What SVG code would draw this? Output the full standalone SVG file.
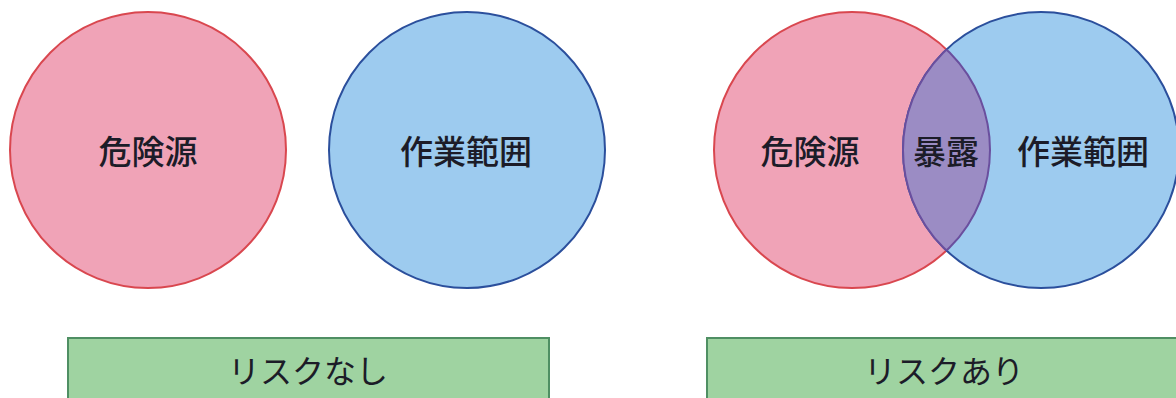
<svg xmlns="http://www.w3.org/2000/svg" width="1176" height="398" viewBox="0 0 1176 398">
<style>
.hz{fill:#f0a3b7;stroke:#d9474f;stroke-width:2}
.wk{fill:#9dcbef;stroke:#2b4f9c;stroke-width:2}
.ov{fill:#9b8cc4;stroke:#6a4f9e;stroke-width:2}
.box{fill:#9fd3a1;stroke:#4f8f63;stroke-width:2}
.t{font-family:"Noto Sans CJK JP","Noto Sans",sans-serif;font-weight:500;fill:#1c1c28;text-anchor:middle;dominant-baseline:central}
.big{font-size:33px}
.lab{font-size:32px;font-weight:400}
</style>
<defs>
<clipPath id="clipHz"><circle cx="852" cy="150" r="138"/></clipPath>
</defs>
<rect width="1176" height="398" fill="#ffffff"/>
<g id="left-hazard"><circle class="hz" cx="148" cy="150" r="138"/><text class="t big" x="148" y="150">危険源</text></g>
<g id="left-work"><circle class="wk" cx="467" cy="150" r="138"/><text class="t big" x="466" y="150">作業範囲</text></g>
<g id="left-result"><rect class="box" x="68" y="338" width="481" height="70"/><text class="t lab" x="308" y="369">リスクなし</text></g>
<g id="right-hazard"><circle class="hz" cx="852" cy="150" r="138"/></g>
<g id="right-work"><circle class="wk" cx="1041" cy="150" r="138"/></g>
<g id="right-exposure"><circle class="ov" cx="1041" cy="150" r="138" clip-path="url(#clipHz)"/><circle cx="852" cy="150" r="138" fill="none" stroke="#6a4f9e" stroke-width="2" clip-path="url(#clipWk)"/></g>
<defs><clipPath id="clipWk"><circle cx="1041" cy="150" r="138"/></clipPath></defs>
<g id="right-labels">
<text class="t big" x="810" y="150">危険源</text>
<text class="t big" x="946" y="150">暴露</text>
<text class="t big" x="1083" y="150">作業範囲</text>
</g>
<g id="right-result"><rect class="box" x="707" y="338" width="480" height="70"/><text class="t lab" x="944" y="369">リスクあり</text></g>
<g id="connectors"/>
</svg>
